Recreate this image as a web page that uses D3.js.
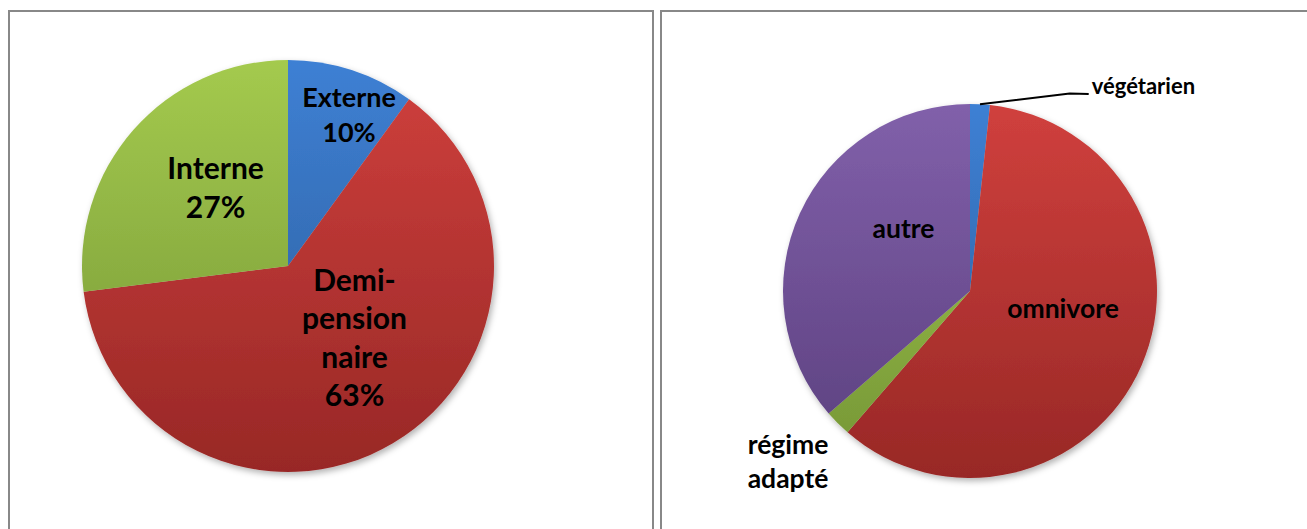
<!DOCTYPE html>
<html>
<head>
<meta charset="utf-8">
<script src="https://cdn.jsdelivr.net/npm/d3@7"></script>
<style>
  body { margin: 0; background: #fff; }
  svg { display: block; }
  .lbl { font-family: Lato, "Open Sans", sans-serif; font-weight: 700; fill: #000; }
</style>
</head>
<body>
<svg id="chart" width="1307" height="529"></svg>
<script>
// left pie: régime scolaire
const leftCategories = ['Externe', 'Demi-pension naire', 'Interne'];
const leftValues = [10, 63, 27];
const leftLabels = [['Externe', '10%'], ['Demi-', 'pension', 'naire', '63%'], ['Interne', '27%']];

// right pie: régime alimentaire (estimated counts)
const rightCategories = ['végétarien', 'omnivore', 'régime adapté', 'autre'];
const rightValues = [3, 105, 4, 64];
const rightLabels = [['végétarien'], ['omnivore'], ['régime', 'adapté'], ['autre']];

// top / bottom gradient stops, Office 2007 style
const blue = ['#3e80d4', '#2b5a96'];
const red = ['#d0403d', '#982826'];
const green = ['#a4ca4e', '#739435'];
const purple = ['#8160aa', '#5a3f7d'];

const svg = d3.select('#chart');
const defs = svg.append('defs');

const shadow = defs.append('filter').attr('id', 'shadow')
    .attr('x', '-10%').attr('y', '-10%').attr('width', '130%').attr('height', '130%');
shadow.append('feDropShadow')
    .attr('dx', 2).attr('dy', 3).attr('stdDeviation', 3)
    .attr('flood-color', '#000').attr('flood-opacity', 0.3);

// panel frames
svg.append('rect').attr('x', 9).attr('y', 11).attr('width', 644).attr('height', 540)
    .attr('fill', 'none').attr('stroke', '#888').attr('stroke-width', 2);
svg.append('rect').attr('x', 661).attr('y', 11).attr('width', 660).attr('height', 540)
    .attr('fill', 'none').attr('stroke', '#888').attr('stroke-width', 2);

function drawPie(id, cx, cy, r, values, colors, labels, fontSize, lineH, layout) {
    const g = svg.append('g').attr('transform', `translate(${cx},${cy})`);

    // vertical gradient over the whole pie, in the pie's own coordinates
    colors.forEach((c, i) => {
        const lg = defs.append('linearGradient')
            .attr('id', `${id}-grad-${i}`)
            .attr('gradientUnits', 'userSpaceOnUse')
            .attr('x1', 0).attr('y1', -r).attr('x2', 0).attr('y2', r);
        lg.append('stop').attr('offset', 0).attr('stop-color', c[0]);
        lg.append('stop').attr('offset', 1).attr('stop-color', c[1]);
    });

    const pie = d3.pie().sort(null).value(d => d);
    const arcs = pie(values);
    const arc = d3.arc().innerRadius(0).outerRadius(r);
    const edge = d3.arc().innerRadius(r).outerRadius(r);

    g.append('g').attr('filter', 'url(#shadow)')
        .selectAll('path')
        .data(arcs)
        .join('path')
        .attr('d', arc)
        .attr('fill', (d, i) => `url(#${id}-grad-${i})`);

    arcs.forEach((d, i) => {
        const c = arc.centroid(d);
        const lay = layout[i];
        const x = c[0] + lay.dx;
        const y = c[1] + lay.dy;
        const t = g.append('text')
            .attr('class', 'lbl')
            .attr('font-size', lay.size || fontSize)
            .attr('text-anchor', lay.anchor || 'middle');
        labels[i].forEach((line, j) => {
            t.append('tspan').attr('x', x).attr('y', y + j * (lay.lineH || lineH)).text(line);
        });
        if (lay.leader) {
            const p0 = edge.centroid(d);
            g.append('path')
                .attr('d', d3.line()([p0, [x - 22, y - 0.5], [x - 3, y]]))
                .attr('fill', 'none').attr('stroke', '#000').attr('stroke-width', 2);
        }
    });
}

// left chart
drawPie('left', 288, 266, 206, leftValues, [blue, red, green], leftLabels, 30, 38.5, [
    { dx: 29.2, dy: -61.3, size: 27, lineH: 35 },
    { dx: 14.1, dy: -64 },
    { dx: 4.8, dy: -18.9 }
]);

// right chart
drawPie('right', 970, 291, 187, rightValues, [blue, red, green, purple], rightLabels, 26.5, 33.7, [
    { dx: 116.7, dy: -103.6, anchor: 'start', size: 22, leader: true },
    { dx: 7.3, dy: -10 },
    { dx: -115.9, dy: 96.7 },
    { dx: 18.6, dy: -14.5 }
]);
</script>
</body>
</html>
